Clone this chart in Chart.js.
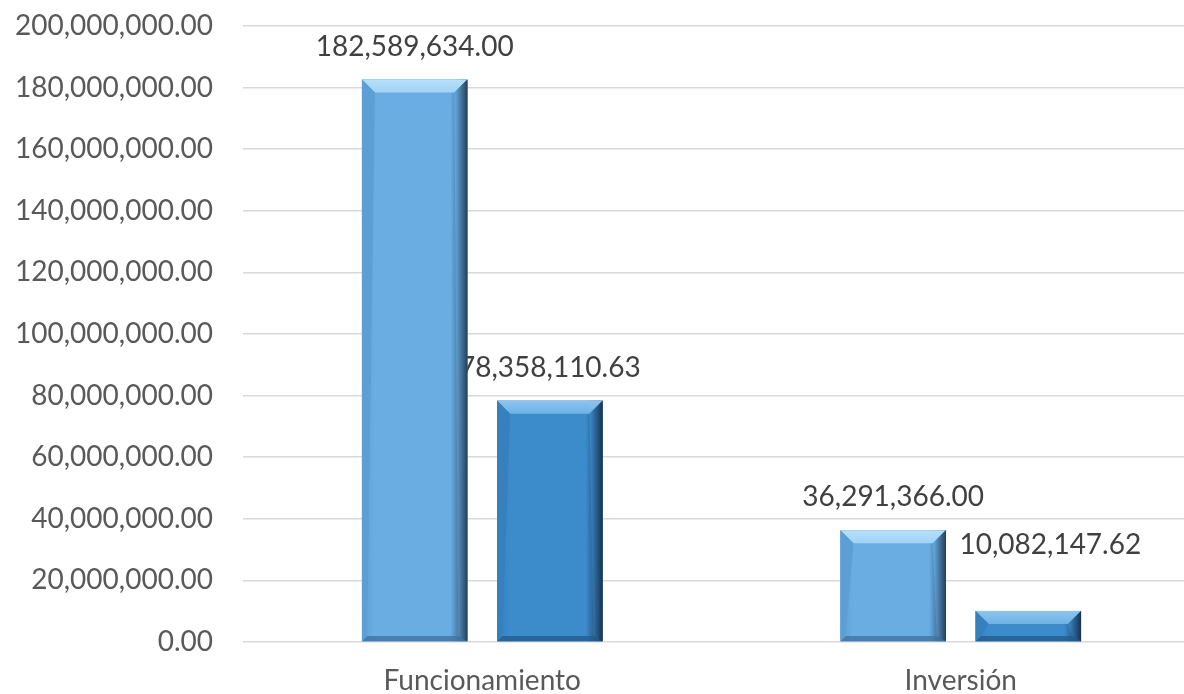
<!DOCTYPE html>
<html lang="es">
<head>
  <meta charset="UTF-8">
  <title>Funcionamiento e Inversión</title>
  <script src="https://cdn.jsdelivr.net/npm/chart.js"></script>
  <style>
    html, body { margin: 0; padding: 0; background: #fff; overflow: hidden; }
    #wrap { width: 1200px; height: 694px; }
  </style>
</head>
<body>
  <div id="wrap"><canvas id="chart" width="1200" height="694"></canvas></div>
  <script>
    // data
    const categories = ['Funcionamiento', 'Inversión'];
    const presupuesto = [182589634.00, 36291366.00];
    const ejecutado = [78358110.63, 10082147.62];
    const yTicks = [0, 20000000, 40000000, 60000000, 80000000, 100000000,
                    120000000, 140000000, 160000000, 180000000, 200000000];

    const fmt = v => v.toLocaleString('en-US', { minimumFractionDigits: 2, maximumFractionDigits: 2 });

    // colour sets for the bevelled bars
    const shades = [
      { base: '#69ade2', top: '#9fd3f7', topEdge: '#b6e0fb', right: '#23405c', left: '#5d9fd4', bottom: '#3f74a3' },
      { base: '#3c8bcb', top: '#6fb1e6', topEdge: '#8cc5ef', right: '#173352', left: '#3580bd', bottom: '#245b8c' }
    ];

    const bevelPlugin = {
      id: 'bevel',
      // value labels go under the bars (the light bar hides part of "78,...")
      beforeDatasetsDraw(chart, args, opts) {
        const ctx = chart.ctx;
        ctx.save();
        ctx.font = opts.font;
        ctx.fillStyle = opts.color;
        ctx.textAlign = 'center';
        ctx.textBaseline = 'middle';
        chart.data.datasets.forEach((ds, di) => {
          chart.getDatasetMeta(di).data.forEach((el, i) => {
            const nudge = opts.nudge[di + '-' + i] || [0, 0];
            ctx.fillText(fmt(ds.data[i]), el.x + nudge[0], el.y - opts.offset + nudge[1]);
          });
        });
        ctx.restore();
      },
      afterDatasetsDraw(chart, args, opts) {
        const ctx = chart.ctx;
        chart.data.datasets.forEach((ds, di) => {
          const meta = chart.getDatasetMeta(di);
          const c = shades[di];
          meta.data.forEach(el => {
            const p = el.getProps(['x', 'y', 'base', 'width'], true);
            const l = p.x - p.width / 2, r = p.x + p.width / 2, t = p.y, b = p.base;
            const h = b - t;
            const bv = Math.min(13, h / 2.3);
            ctx.save();
            // body: horizontal shading
            let g = ctx.createLinearGradient(l, 0, r, 0);
            g.addColorStop(0, c.left);
            g.addColorStop(0.12, c.base);
            g.addColorStop(0.84, c.base);
            g.addColorStop(1, c.right);
            ctx.fillStyle = g;
            ctx.fillRect(l, t, r - l, h);
            // top bevel
            g = ctx.createLinearGradient(0, t, 0, t + bv);
            g.addColorStop(0, c.topEdge);
            g.addColorStop(1, c.top);
            ctx.fillStyle = g;
            ctx.beginPath();
            ctx.moveTo(l, t); ctx.lineTo(r, t);
            ctx.lineTo(r - bv, t + bv); ctx.lineTo(l + bv, t + bv);
            ctx.closePath(); ctx.fill();
            // right bevel
            g = ctx.createLinearGradient(r - bv, 0, r, 0);
            g.addColorStop(0, c.base);
            g.addColorStop(1, c.right);
            ctx.fillStyle = g;
            ctx.beginPath();
            ctx.moveTo(r, t); ctx.lineTo(r, b);
            ctx.lineTo(r - bv * 0.7, b - bv * 0.4); ctx.lineTo(r - bv, t + bv);
            ctx.closePath(); ctx.fill();
            // bottom bevel
            ctx.fillStyle = c.bottom;
            ctx.globalAlpha = 0.8;
            ctx.beginPath();
            ctx.moveTo(l, b); ctx.lineTo(r, b);
            ctx.lineTo(r - bv * 0.7, b - bv * 0.4); ctx.lineTo(l + bv * 0.4, b - bv * 0.4);
            ctx.closePath(); ctx.fill();
            ctx.globalAlpha = 1;
            // left bevel
            ctx.fillStyle = c.left;
            ctx.beginPath();
            ctx.moveTo(l, t); ctx.lineTo(l + bv, t + bv);
            ctx.lineTo(l + bv * 0.4, b - bv * 0.4); ctx.lineTo(l, b);
            ctx.closePath(); ctx.fill();
            ctx.restore();
          });
        });
      }
    };

    new Chart(document.getElementById('chart'), {
      type: 'bar',
      data: {
        labels: categories,
        datasets: [
          { label: 'Presupuesto', data: presupuesto, backgroundColor: shades[0].base },
          { label: 'Ejecutado', data: ejecutado, backgroundColor: shades[1].base }
        ]
      },
      options: {
        responsive: false,
        animation: false,
        layout: { padding: { top: 26, right: 0, left: 0, bottom: 0 } },
        datasets: { bar: { categoryPercentage: 0.565, barPercentage: 0.78 } },
        plugins: {
          legend: { display: false },
          tooltip: { enabled: false },
          bevel: {
            font: '28px Lato',
            color: '#404040',
            offset: 33,
            nudge: { '1-1': [22, -33] }
          }
        },
        scales: {
          x: {
            grid: { display: false, drawTicks: false },
            border: { display: false },
            ticks: { color: '#595959', font: { family: 'Lato', size: 28 }, padding: 22 },
            afterFit(scale) { scale.height = 52; }
          },
          y: {
            min: 0,
            max: 200000000,
            afterBuildTicks(scale) { scale.ticks = yTicks.map(v => ({ value: v })); },
            // invisible tick marks push the labels away from the grid
            grid: { color: '#d9d9d9', lineWidth: 1.5, drawTicks: true, tickLength: 30, tickColor: 'rgba(0,0,0,0)' },
            border: { display: false },
            ticks: {
              color: '#595959',
              font: { family: 'Lato', size: 28 },
              padding: 0,
              callback: v => fmt(v)
            },
            afterFit(scale) { scale.width = 243; }
          }
        }
      },
      plugins: [bevelPlugin]
    });
  </script>
</body>
</html>
